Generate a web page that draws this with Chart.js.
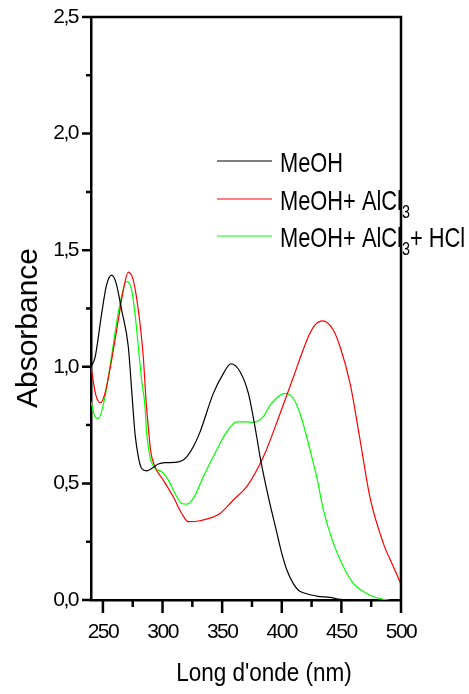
<!DOCTYPE html>
<html>
<head>
<meta charset="utf-8">
<script src="https://cdn.jsdelivr.net/npm/chart.js@4/dist/chart.umd.min.js"></script>
<style>
    body { margin: 0; background: #fff; }
    canvas { display: block; }
</style>
</head>
<body>
<canvas id="myChart" width="469" height="694"></canvas>
<script>
// spectra (wavelength nm / absorbance)
const meohX = [240, 243.4, 249, 253, 257.3, 261, 265.7, 271.3, 274.1, 276.9, 279.7, 282.5, 286.7, 290.9, 296.5, 302.1, 310.5, 316.1, 320.3, 325.8, 331.4, 342.6, 351, 357.4, 365, 372, 379, 381.8, 388.7, 395.8, 400, 404.2, 409.7, 414, 418.1, 429.3, 440.5, 448.9, 460]
const meohY = [1.00, 1.04, 1.23, 1.35, 1.393, 1.36, 1.243, 1.086, 0.90, 0.714, 0.614, 0.564, 0.554, 0.564, 0.583, 0.589, 0.590, 0.597, 0.614, 0.657, 0.72, 0.886, 0.971, 1.013, 0.979, 0.886, 0.70, 0.614, 0.443, 0.29, 0.20, 0.13, 0.07, 0.042, 0.031, 0.017, 0.011, 0.003, 0]

const alcl3X = [240, 244, 248.1, 251.7, 257.3, 262.9, 267.1, 271.3, 275.5, 279.7, 283.9, 286.1, 288.1, 290, 293.7, 300.6, 309, 316.1, 321.6, 331.4, 348.2, 359.4, 370.6, 384.6, 398.6, 409.7, 417.7, 423.7, 428, 434.4, 443.3, 448.9, 457.3, 465.7, 474, 485.2, 493.6, 500]
const alcl3Y = [1.00, 0.88, 0.846, 0.886, 1.029, 1.20, 1.329, 1.406, 1.371, 1.243, 1.04, 0.86, 0.74, 0.64, 0.571, 0.514, 0.443, 0.371, 0.336, 0.340, 0.371, 0.429, 0.486, 0.614, 0.80, 0.955, 1.07, 1.145, 1.18, 1.197, 1.157, 1.086, 0.929, 0.686, 0.44, 0.243, 0.143, 0.068]

const hclX = [240, 243.4, 246.2, 251.7, 255.9, 260.1, 264.3, 269.9, 274.1, 276.9, 279.7, 282.5, 285.3, 286.7, 289.5, 293.7, 299.3, 304.9, 310.5, 316.1, 320.3, 325.8, 334.2, 345.4, 353.8, 362.2, 370.6, 376.2, 384.6, 390.2, 402.8, 409.7, 415.3, 420.9, 426.5, 429.3, 434.9, 443.3, 451.7, 460, 468.4, 476.8, 485.2, 490]
const hclY = [0.85, 0.786, 0.779, 0.871, 1.00, 1.143, 1.271, 1.366, 1.329, 1.229, 1.086, 0.943, 0.829, 0.714, 0.614, 0.564, 0.55, 0.514, 0.457, 0.414, 0.411, 0.436, 0.529, 0.643, 0.721, 0.764, 0.764, 0.762, 0.786, 0.836, 0.886, 0.864, 0.80, 0.70, 0.586, 0.529, 0.386, 0.243, 0.143, 0.071, 0.036, 0.014, 0.003, 0]

const xTicks = [250, 300, 350, 400, 450, 500]
const xMinor = [275, 325, 375, 425, 475]
const yTicks = [0, 0.5, 1.0, 1.5, 2.0, 2.5]
const yMinor = [0.25, 0.75, 1.25, 1.75, 2.25]

const seriesNames = ['MeOH', 'MeOH+ AlCl3', 'MeOH+ AlCl3+ HCl']
const seriesColors = ['#000000', '#ff0000', '#00ff00']
// legend text pieces, true = subscript
const legendParts = [
    [['MeOH', false]],
    [['MeOH+ AlCl', false], ['3', true]],
    [['MeOH+ AlCl', false], ['3', true], ['+ HCl', false]]
]

const FONT = '"Liberation Sans", Arial, sans-serif'

const toPoints = (xs, ys) => xs.map((x, i) => ({ x: x, y: ys[i] }))

function drawText(ctx, str, x, y, size, sx) {
    ctx.save()
    ctx.translate(x, y)
    ctx.scale(sx, 1)
    ctx.font = size + 'px ' + FONT
    ctx.fillText(str, 0, 0)
    const w = ctx.measureText(str).width * sx
    ctx.restore()
    return w
}

const framePlugin = {
    id: 'frameAndLabels',
    beforeDraw: (chart) => {
        chart.ctx.letterSpacing = '-1.5px'
    },
    afterDraw: (chart) => {
        const { ctx, chartArea, scales } = chart
        const x = scales.x
        const y = scales.y
        ctx.save()
        ctx.letterSpacing = '0px'
        ctx.strokeStyle = '#000'
        ctx.fillStyle = '#000'
        ctx.lineWidth = 2.5

        // top and right frame
        ctx.beginPath()
        ctx.moveTo(chartArea.left, chartArea.top)
        ctx.lineTo(chartArea.right, chartArea.top)
        ctx.lineTo(chartArea.right, chartArea.bottom)
        ctx.stroke()

        // tick marks
        ctx.beginPath()
        xTicks.forEach(v => {
            const px = x.getPixelForValue(v)
            ctx.moveTo(px, chartArea.bottom)
            ctx.lineTo(px, chartArea.bottom + 13)
        })
        xMinor.forEach(v => {
            const px = x.getPixelForValue(v)
            ctx.moveTo(px, chartArea.bottom)
            ctx.lineTo(px, chartArea.bottom + 7)
        })
        yTicks.forEach(v => {
            const py = y.getPixelForValue(v)
            ctx.moveTo(chartArea.left - 9, py)
            ctx.lineTo(chartArea.left, py)
        })
        yMinor.forEach(v => {
            const py = y.getPixelForValue(v)
            ctx.moveTo(chartArea.left - 5, py)
            ctx.lineTo(chartArea.left, py)
        })
        ctx.stroke()

        // axis titles
        ctx.textAlign = 'center'
        ctx.textBaseline = 'alphabetic'
        ctx.save()
        ctx.translate(37, 328)
        ctx.rotate(-Math.PI / 2)
        ctx.font = '30px ' + FONT
        ctx.fillText('Absorbance', 0, 0)
        ctx.restore()

        ctx.save()
        ctx.translate(264, 681)
        ctx.scale(0.9, 1)
        ctx.font = '25px ' + FONT
        ctx.fillText("Long d'onde (nm)", 0, 0)
        ctx.restore()

        // legend
        ctx.textAlign = 'left'
        const lineY = [161, 199, 236]
        ctx.lineWidth = 1
        legendParts.forEach((parts, i) => {
            ctx.strokeStyle = seriesColors[i]
            ctx.beginPath()
            ctx.moveTo(217, lineY[i])
            ctx.lineTo(272, lineY[i])
            ctx.stroke()
            let tx = 280
            parts.forEach(p => {
                if (p[1]) {
                    tx += drawText(ctx, p[0], tx, lineY[i] + 19, 18, 0.8)
                } else {
                    tx += drawText(ctx, p[0], tx, lineY[i] + 11, 28, 0.78)
                }
            })
        })
        ctx.restore()
    }
}

const ctx = document.getElementById('myChart')
const datasets = [toPoints(meohX, meohY), toPoints(alcl3X, alcl3Y), toPoints(hclX, hclY)].map((pts, i) => ({
    label: seriesNames[i],
    data: pts,
    borderColor: seriesColors[i],
    borderWidth: 1.2,
    pointRadius: 0,
    fill: false,
    cubicInterpolationMode: 'monotone'
}))

const myLineChart = new Chart(ctx, {
    type: 'line',
    data: { datasets: datasets },
    options: {
        responsive: false,
        animation: false,
        devicePixelRatio: 1,
        layout: { padding: { top: 17, right: 68, left: 0, bottom: 0 } },
        plugins: {
            legend: { display: false },
            tooltip: { enabled: false }
        },
        scales: {
            x: {
                type: 'linear',
                min: 240,
                max: 500,
                afterBuildTicks: (scale) => { scale.ticks = xTicks.map(v => ({ value: v })) },
                afterFit: (scale) => {
                    scale.height = 94
                    scale.paddingLeft = 0
                    scale.paddingRight = 0
                },
                grid: { display: false, drawTicks: false },
                border: { display: true, color: '#000', width: 2.5 },
                ticks: {
                    color: '#000',
                    padding: 20,
                    maxRotation: 0,
                    font: { family: FONT, size: 21 }
                }
            },
            y: {
                min: 0,
                max: 2.5,
                afterBuildTicks: (scale) => { scale.ticks = yTicks.map(v => ({ value: v })) },
                afterFit: (scale) => {
                    scale.width = 91
                    scale.paddingTop = 0
                    scale.paddingBottom = 0
                },
                grid: { display: false, drawTicks: false },
                border: { display: true, color: '#000', width: 2.5 },
                ticks: {
                    color: '#000',
                    padding: 13,
                    font: { family: FONT, size: 21 },
                    callback: (v) => v.toFixed(1).replace('.', ',')
                }
            }
        }
    },
    plugins: [framePlugin]
})
</script>
</body>
</html>
